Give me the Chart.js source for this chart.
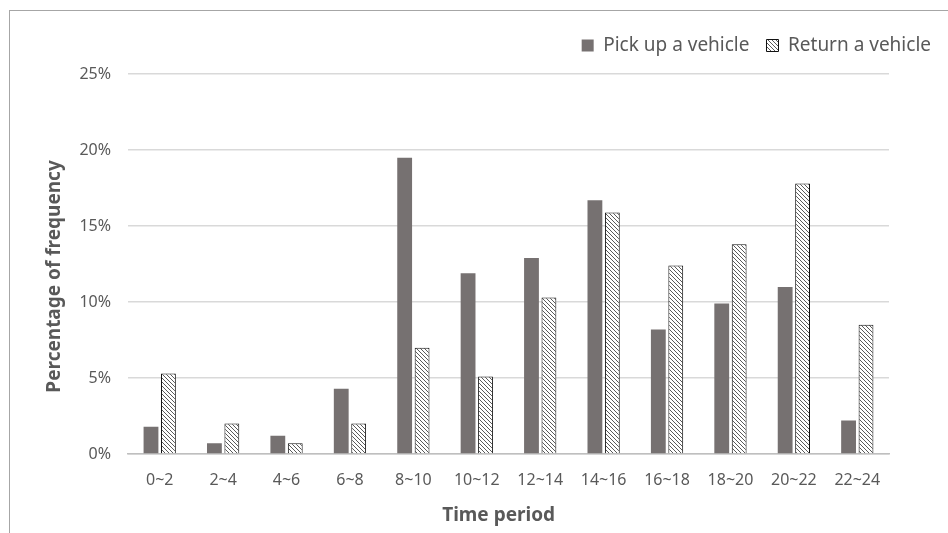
<!DOCTYPE html>
<html>
<head>
<meta charset="utf-8">
<script src="https://cdn.jsdelivr.net/npm/chart.js@4.4.0/dist/chart.umd.min.js"></script>
<style>
  html, body { margin: 0; padding: 0; background: #fff; }
  #wrap { position: relative; width: 948px; height: 533px; overflow: hidden; }
  #frame { position: absolute; left: 9px; top: 10px; width: 960px; height: 560px; border: 1.5px solid #a6a6a6; }
  canvas { position: absolute; left: 0; top: 0; }
</style>
</head>
<body>
<div id="wrap">
  <div id="frame"></div>
  <canvas id="chart" width="948" height="533"></canvas>
</div>
<script>
// time periods on the x axis
const periods = ["0~2", "2~4", "4~6", "6~8", "8~10", "10~12", "12~14", "14~16", "16~18", "18~20", "20~22", "22~24"];
// percentage of frequency
const pickUp = [1.8, 0.7, 1.2, 4.3, 19.5, 11.9, 12.9, 16.7, 8.2, 9.9, 11.0, 2.2];
const returnVeh = [5.3, 2.0, 0.7, 2.0, 7.0, 5.1, 10.3, 15.9, 12.4, 13.8, 17.8, 8.5];
const yTicks = [0, 5, 10, 15, 20, 25];

// hatch pattern for the return bars
function makeHatch() {
  const c = document.createElement("canvas");
  c.width = 4; c.height = 4;
  const ctx = c.getContext("2d");
  ctx.fillStyle = "#ffffff";
  ctx.fillRect(0, 0, 4, 4);
  ctx.strokeStyle = "#5a5a5a";
  ctx.lineWidth = 1;
  ctx.beginPath();
  ctx.moveTo(0, 0); ctx.lineTo(4, 4);
  ctx.moveTo(-1, 3); ctx.lineTo(1, 5);
  ctx.moveTo(3, -1); ctx.lineTo(5, 1);
  ctx.stroke();
  return ctx.createPattern(c, "repeat");
}

const textGray = "#595959";
Chart.defaults.font.family = "'Noto Sans', 'Open Sans', sans-serif";
Chart.defaults.color = textGray;

new Chart(document.getElementById("chart"), {
  type: "bar",
  data: {
    labels: periods,
    datasets: [
      {
        label: "Pick up a vehicle",
        data: pickUp,
        backgroundColor: "#767171",
        borderWidth: 0,
        categoryPercentage: 0.55,
        barPercentage: 0.85
      },
      {
        label: "Return a vehicle",
        data: returnVeh,
        backgroundColor: makeHatch(),
        borderColor: "#111111",
        borderWidth: 1,
        categoryPercentage: 0.55,
        barPercentage: 0.85
      }
    ]
  },
  options: {
    responsive: false,
    animation: false,
    layout: { padding: { left: 43, right: 0, top: 19, bottom: 6 } },
    plugins: {
      tooltip: { enabled: false },
      legend: {
        position: "top",
        align: "end",
        labels: {
          boxWidth: 12,
          boxHeight: 12,
          padding: 17,
          font: { size: 19 },
          color: textGray
        }
      },
      // empty subtitle used as a spacer between legend and plot
      subtitle: {
        display: true,
        text: "",
        position: "top",
        weight: 500,
        font: { size: 1 },
        padding: { top: 0, bottom: 8 }
      }
    },
    scales: {
      x: {
        grid: { display: false },
        border: { color: "#bfbfbf", width: 1.5 },
        ticks: { font: { size: 16 }, color: textGray, padding: 9 },
        title: {
          display: true,
          // trailing spaces nudge the title a bit left, as in the original
          text: "Time period    ",
          font: { size: 19, weight: "bold" },
          color: textGray,
          padding: { top: 5, bottom: 0 }
        }
      },
      y: {
        min: 0,
        max: 25,
        afterBuildTicks: axis => { axis.ticks = yTicks.map(v => ({ value: v })); },
        afterFit: axis => { axis.width = 85; },
        grid: { color: "#d9d9d9", lineWidth: 1.5, drawTicks: false },
        border: { display: false },
        ticks: { font: { size: 16 }, color: textGray, padding: 17, callback: v => v + "%" },
        title: {
          display: true,
          text: "Percentage of frequency     ",
          font: { size: 19, weight: "bold" },
          color: textGray,
          padding: { top: 0, bottom: 7 }
        }
      },
      // empty right axis keeps the plot clear of the legend's right end
      yRight: {
        position: "right",
        display: true,
        grid: { display: false },
        border: { display: false },
        ticks: { display: false },
        afterFit: axis => { axis.width = 59; }
      }
    }
  }
});
</script>
</body>
</html>
